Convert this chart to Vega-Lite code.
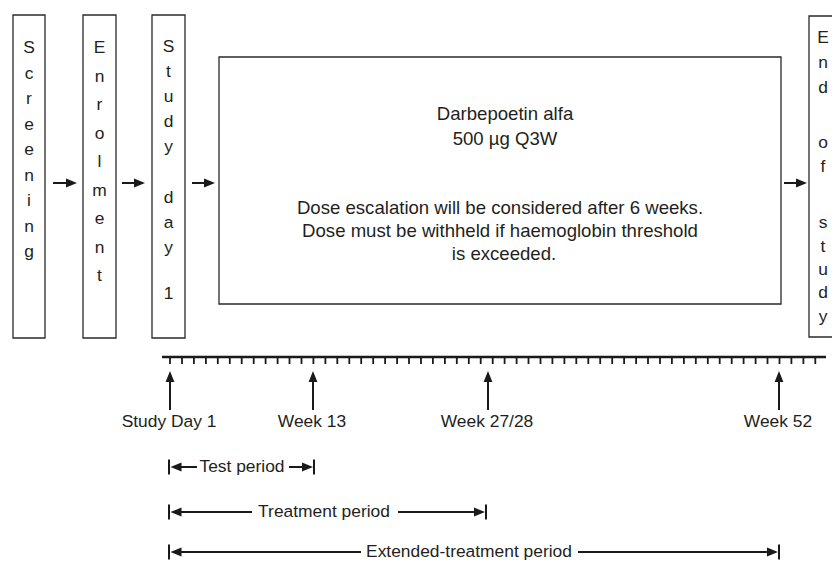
{
  "$schema": "https://vega.github.io/schema/vega-lite/v6.json",
  "width": 832,
  "height": 562,
  "padding": 0,
  "autosize": {"type": "fit", "contains": "padding"},
  "background": "white",
  "config": {"view": {"stroke": null}},
  "datasets": {
    "boxes": [
      {"name": "Screening", "x": 13, "x2": 45, "y": 15, "y2": 338},
      {"name": "Enrolment", "x": 83, "x2": 116, "y": 15, "y2": 338},
      {"name": "Study day 1", "x": 152, "x2": 185, "y": 15, "y2": 338},
      {"name": "Treatment", "x": 219, "x2": 781, "y": 57, "y2": 304},
      {"name": "End of study", "x": 809, "x2": 845, "y": 16, "y2": 337}
    ],
    "lines": [
      {"kind": "shaft", "x": 53, "x2": 70, "y": 183, "y2": 183},
      {"kind": "shaft", "x": 122, "x2": 138, "y": 183, "y2": 183},
      {"kind": "shaft", "x": 192, "x2": 208, "y": 183, "y2": 183},
      {"kind": "shaft", "x": 784, "x2": 800, "y": 183, "y2": 183},
      {"kind": "shaft", "x": 170, "x2": 170, "y": 380, "y2": 410},
      {"kind": "shaft", "x": 313, "x2": 313, "y": 380, "y2": 410},
      {"kind": "shaft", "x": 488, "x2": 488, "y": 380, "y2": 410},
      {"kind": "shaft", "x": 779, "x2": 779, "y": 380, "y2": 410},
      {"kind": "shaft", "x": 179, "x2": 197, "y": 467, "y2": 467},
      {"kind": "shaft", "x": 289, "x2": 303, "y": 467, "y2": 467},
      {"kind": "shaft", "x": 179, "x2": 252, "y": 512, "y2": 512},
      {"kind": "shaft", "x": 398, "x2": 475, "y": 512, "y2": 512},
      {"kind": "shaft", "x": 179, "x2": 361, "y": 552, "y2": 552},
      {"kind": "shaft", "x": 578, "x2": 768, "y": 552, "y2": 552},
      {"kind": "shaft", "x": 169, "x2": 169, "y": 459.5, "y2": 474.5},
      {"kind": "shaft", "x": 314, "x2": 314, "y": 459.5, "y2": 474.5},
      {"kind": "shaft", "x": 169, "x2": 169, "y": 504.5, "y2": 519.5},
      {"kind": "shaft", "x": 486, "x2": 486, "y": 504.5, "y2": 519.5},
      {"kind": "shaft", "x": 169, "x2": 169, "y": 544.5, "y2": 559.5},
      {"kind": "shaft", "x": 779, "x2": 779, "y": 544.5, "y2": 559.5},
      {"kind": "timeline", "x": 162, "x2": 826, "y": 357, "y2": 357}
    ],
    "ticks": [
      {"week": 1, "x": 170.0, "y": 357, "y2": 364}, {"week": 2, "x": 182.0, "y": 357, "y2": 364},
      {"week": 3, "x": 193.9, "y": 357, "y2": 364}, {"week": 4, "x": 205.9, "y": 357, "y2": 364},
      {"week": 5, "x": 217.8, "y": 357, "y2": 364}, {"week": 6, "x": 229.8, "y": 357, "y2": 364},
      {"week": 7, "x": 241.7, "y": 357, "y2": 364}, {"week": 8, "x": 253.7, "y": 357, "y2": 364},
      {"week": 9, "x": 265.6, "y": 357, "y2": 364}, {"week": 10, "x": 277.6, "y": 357, "y2": 364},
      {"week": 11, "x": 289.5, "y": 357, "y2": 364}, {"week": 12, "x": 301.5, "y": 357, "y2": 364},
      {"week": 13, "x": 313.4, "y": 357, "y2": 364}, {"week": 14, "x": 325.4, "y": 357, "y2": 364},
      {"week": 15, "x": 337.3, "y": 357, "y2": 364}, {"week": 16, "x": 349.3, "y": 357, "y2": 364},
      {"week": 17, "x": 361.2, "y": 357, "y2": 364}, {"week": 18, "x": 373.2, "y": 357, "y2": 364},
      {"week": 19, "x": 385.1, "y": 357, "y2": 364}, {"week": 20, "x": 397.1, "y": 357, "y2": 364},
      {"week": 21, "x": 409.0, "y": 357, "y2": 364}, {"week": 22, "x": 421.0, "y": 357, "y2": 364},
      {"week": 23, "x": 432.9, "y": 357, "y2": 364}, {"week": 24, "x": 444.9, "y": 357, "y2": 364},
      {"week": 25, "x": 456.8, "y": 357, "y2": 364}, {"week": 26, "x": 468.8, "y": 357, "y2": 364},
      {"week": 27, "x": 480.7, "y": 357, "y2": 364}, {"week": 28, "x": 492.7, "y": 357, "y2": 364},
      {"week": 29, "x": 504.6, "y": 357, "y2": 364}, {"week": 30, "x": 516.6, "y": 357, "y2": 364},
      {"week": 31, "x": 528.5, "y": 357, "y2": 364}, {"week": 32, "x": 540.5, "y": 357, "y2": 364},
      {"week": 33, "x": 552.4, "y": 357, "y2": 364}, {"week": 34, "x": 564.4, "y": 357, "y2": 364},
      {"week": 35, "x": 576.3, "y": 357, "y2": 364}, {"week": 36, "x": 588.3, "y": 357, "y2": 364},
      {"week": 37, "x": 600.2, "y": 357, "y2": 364}, {"week": 38, "x": 612.2, "y": 357, "y2": 364},
      {"week": 39, "x": 624.1, "y": 357, "y2": 364}, {"week": 40, "x": 636.1, "y": 357, "y2": 364},
      {"week": 41, "x": 648.0, "y": 357, "y2": 364}, {"week": 42, "x": 660.0, "y": 357, "y2": 364},
      {"week": 43, "x": 671.9, "y": 357, "y2": 364}, {"week": 44, "x": 683.9, "y": 357, "y2": 364},
      {"week": 45, "x": 695.8, "y": 357, "y2": 364}, {"week": 46, "x": 707.8, "y": 357, "y2": 364},
      {"week": 47, "x": 719.7, "y": 357, "y2": 364}, {"week": 48, "x": 731.7, "y": 357, "y2": 364},
      {"week": 49, "x": 743.6, "y": 357, "y2": 364}, {"week": 50, "x": 755.6, "y": 357, "y2": 364},
      {"week": 51, "x": 767.5, "y": 357, "y2": 364}, {"week": 52, "x": 779.5, "y": 357, "y2": 364},
      {"week": 53, "x": 791.4, "y": 357, "y2": 364}, {"week": 54, "x": 803.4, "y": 357, "y2": 364},
      {"week": 55, "x": 815.3, "y": 357, "y2": 364}
    ],
    "heads": [
      {"dir": "r", "x": 71.5, "y": 183},
      {"dir": "r", "x": 139.5, "y": 183},
      {"dir": "r", "x": 209.5, "y": 183},
      {"dir": "r", "x": 801.5, "y": 183},
      {"dir": "u", "x": 170, "y": 376.5},
      {"dir": "u", "x": 313, "y": 376.5},
      {"dir": "u", "x": 488, "y": 376.5},
      {"dir": "u", "x": 779, "y": 376.5},
      {"dir": "l", "x": 176, "y": 467},
      {"dir": "l", "x": 176, "y": 512},
      {"dir": "l", "x": 176, "y": 552},
      {"dir": "r", "x": 307.5, "y": 467},
      {"dir": "r", "x": 479.5, "y": 512},
      {"dir": "r", "x": 772.5, "y": 552}
    ],
    "texts": [
      {"role": "letter", "text": "S", "x": 29, "y": 48}, {"role": "letter", "text": "c", "x": 29, "y": 73.5}, {"role": "letter", "text": "r", "x": 29, "y": 99},
      {"role": "letter", "text": "e", "x": 29, "y": 124.5}, {"role": "letter", "text": "e", "x": 29, "y": 150}, {"role": "letter", "text": "n", "x": 29, "y": 175.5},
      {"role": "letter", "text": "i", "x": 29, "y": 201}, {"role": "letter", "text": "n", "x": 29, "y": 226.5}, {"role": "letter", "text": "g", "x": 29, "y": 252},
      {"role": "letter", "text": "E", "x": 99.5, "y": 48}, {"role": "letter", "text": "n", "x": 99.5, "y": 76.5}, {"role": "letter", "text": "r", "x": 99.5, "y": 105},
      {"role": "letter", "text": "o", "x": 99.5, "y": 133.5}, {"role": "letter", "text": "l", "x": 99.5, "y": 162}, {"role": "letter", "text": "m", "x": 99.5, "y": 190.5},
      {"role": "letter", "text": "e", "x": 99.5, "y": 219}, {"role": "letter", "text": "n", "x": 99.5, "y": 247.5}, {"role": "letter", "text": "t", "x": 99.5, "y": 276},
      {"role": "letter", "text": "S", "x": 168.5, "y": 47}, {"role": "letter", "text": "t", "x": 168.5, "y": 72}, {"role": "letter", "text": "u", "x": 168.5, "y": 97},
      {"role": "letter", "text": "d", "x": 168.5, "y": 122}, {"role": "letter", "text": "y", "x": 168.5, "y": 147}, {"role": "letter", "text": "d", "x": 168.5, "y": 198},
      {"role": "letter", "text": "a", "x": 168.5, "y": 223}, {"role": "letter", "text": "y", "x": 168.5, "y": 248}, {"role": "letter", "text": "1", "x": 168.5, "y": 294},
      {"role": "letter", "text": "E", "x": 823, "y": 38}, {"role": "letter", "text": "n", "x": 823, "y": 63}, {"role": "letter", "text": "d", "x": 823, "y": 88},
      {"role": "letter", "text": "o", "x": 823, "y": 143}, {"role": "letter", "text": "f", "x": 823, "y": 167}, {"role": "letter", "text": "s", "x": 823, "y": 223},
      {"role": "letter", "text": "t", "x": 823, "y": 247}, {"role": "letter", "text": "u", "x": 823, "y": 270}, {"role": "letter", "text": "d", "x": 823, "y": 293},
      {"role": "letter", "text": "y", "x": 823, "y": 317},
      {"role": "box", "text": "Darbepoetin alfa", "x": 505, "y": 114},
      {"role": "box", "text": "500 µg Q3W", "x": 505, "y": 139},
      {"role": "box", "text": "Dose escalation will be considered after 6 weeks.", "x": 500, "y": 208},
      {"role": "box", "text": "Dose must be withheld if haemoglobin threshold", "x": 500, "y": 231},
      {"role": "box", "text": "is exceeded.", "x": 504, "y": 254},
      {"role": "label", "text": "Study Day 1", "x": 169, "y": 422},
      {"role": "label", "text": "Week 13", "x": 312, "y": 422},
      {"role": "label", "text": "Week 27/28", "x": 487, "y": 422},
      {"role": "label", "text": "Week 52", "x": 778, "y": 422},
      {"role": "label", "text": "Test period", "x": 242, "y": 467},
      {"role": "label", "text": "Treatment period", "x": 324, "y": 512},
      {"role": "label", "text": "Extended-treatment period", "x": 469, "y": 552}
    ]
  },
  "encoding": {
    "x": {"field": "x", "type": "quantitative", "scale": {"domain": [0, 832], "nice": false, "zero": false}, "axis": null},
    "y": {"field": "y", "type": "quantitative", "scale": {"domain": [0, 562], "nice": false, "zero": false, "reverse": true}, "axis": null}
  },
  "layer": [
    {
      "data": {"name": "boxes"},
      "mark": {"type": "rect", "fill": "white", "stroke": "#2a2a2a", "strokeWidth": 1.3, "clip": true},
      "encoding": {
        "x2": {"field": "x2"},
        "y2": {"field": "y2"}
      }
    },
    {
      "data": {"name": "lines"},
      "transform": [{"filter": "datum.kind == 'shaft'"}],
      "mark": {"type": "rule", "color": "#1a1a1a", "strokeWidth": 2},
      "encoding": {
        "x2": {"field": "x2"},
        "y2": {"field": "y2"}
      }
    },
    {
      "data": {"name": "lines"},
      "transform": [{"filter": "datum.kind == 'timeline'"}],
      "mark": {"type": "rule", "color": "#1a1a1a", "strokeWidth": 2.5},
      "encoding": {
        "x2": {"field": "x2"},
        "y2": {"field": "y2"}
      }
    },
    {
      "data": {"name": "ticks"},
      "mark": {"type": "rule", "color": "#1a1a1a", "strokeWidth": 1.8},
      "encoding": {
        "y2": {"field": "y2"}
      }
    },
    {
      "data": {"name": "heads"},
      "mark": {"type": "point", "filled": true, "color": "#1a1a1a", "opacity": 1, "size": 121, "strokeWidth": 0},
      "encoding": {
        "shape": {
          "field": "dir",
          "type": "nominal",
          "scale": {"domain": ["r", "l", "u"], "range": ["M1,0L-1,-0.8L-1,0.8Z", "M-1,0L1,-0.8L1,0.8Z", "M0,-1L-0.8,1L0.8,1Z"]},
          "legend": null
        }
      }
    },
    {
      "data": {"name": "texts"},
      "transform": [{"filter": "datum.role != 'box'"}],
      "mark": {"type": "text", "font": "Liberation Sans", "fontSize": 17.4, "color": "#231f20", "align": "center", "baseline": "middle"},
      "encoding": {
        "text": {"field": "text"}
      }
    },
    {
      "data": {"name": "texts"},
      "transform": [{"filter": "datum.role == 'box'"}],
      "mark": {"type": "text", "font": "Liberation Sans", "fontSize": 18.6, "color": "#231f20", "align": "center", "baseline": "middle"},
      "encoding": {
        "text": {"field": "text"}
      }
    }
  ]
}
